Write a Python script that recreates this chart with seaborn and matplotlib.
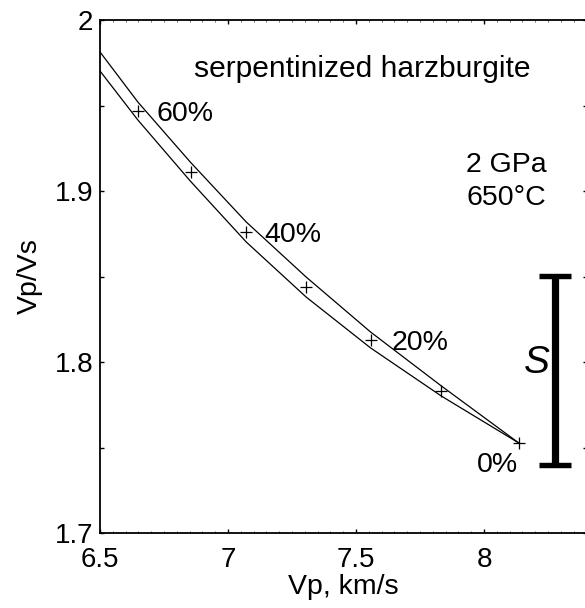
import matplotlib
matplotlib.use('Agg')
import matplotlib.pyplot as plt
import seaborn as sns
import pandas as pd

# marks on the serpentinization trend (percent serpentine)
serp_pct = [60, 50, 40, 30, 20, 10, 0]
mark_vp = [6.648, 6.854, 7.071, 7.305, 7.557, 7.833, 8.136]
mark_vpvs = [1.9468, 1.9111, 1.8760, 1.8439, 1.8129, 1.7830, 1.7526]

# upper / lower bound curves
curve_vp = [6.5, 6.648, 6.854, 7.071, 7.305, 7.557, 7.833, 8.136]
upper_vpvs = [1.9813, 1.9520, 1.9167, 1.8819, 1.8497, 1.8175, 1.7860, 1.7526]
lower_vpvs = [1.9702, 1.9415, 1.9056, 1.8702, 1.8380, 1.8082, 1.7801, 1.7526]

# observed range "S"
s_vp = 8.276
s_mid = 1.795
s_err = 0.0553

labelled = {60: (13.5, -7.5, 'left'), 40: (13, -7.2, 'left'),
            20: (15, -7.2, 'left'), 0: (-0.7, -21, 'right')}

sns.set_theme(style='white')
plt.rcParams['font.family'] = ['Liberation Sans', 'DejaVu Sans']
plt.rcParams['text.color'] = 'black'

fig = plt.figure(figsize=(5.85, 6.08), dpi=100)
ax = fig.add_axes([100 / 585, 1 - 533 / 608, 486.5 / 585, 513 / 608])

df_up = pd.DataFrame({'vp': curve_vp, 'vpvs': upper_vpvs})
df_lo = pd.DataFrame({'vp': curve_vp, 'vpvs': lower_vpvs})
sns.lineplot(data=df_up, x='vp', y='vpvs', sort=False, color='black', lw=0.9, ax=ax)
sns.lineplot(data=df_lo, x='vp', y='vpvs', sort=False, color='black', lw=0.9, ax=ax)

df_m = pd.DataFrame({'vp': mark_vp, 'vpvs': mark_vpvs, 'pct': serp_pct})
ax.plot(df_m['vp'], df_m['vpvs'], ls='none', marker='+', ms=9, mew=0.9, color='black')

for p, v, r in zip(serp_pct, mark_vp, mark_vpvs):
    if p in labelled:
        dx, dy, ha = labelled[p]
        ax.annotate(f'{p}%', (v, r), xytext=(dx, dy), textcoords='offset points',
                    ha=ha, va='baseline', fontsize=20.5, color='black')

ax.errorbar([s_vp], [s_mid], yerr=[s_err], fmt='none', ecolor='black',
            elinewidth=5.2, capsize=11.5, capthick=3.9)
ax.text(8.206, 1.7936, 'S', fontsize=28, style='italic', ha='center', va='baseline',
        color='black')

ax.text(6.869, 1.9667, 'serpentinized harzburgite', fontsize=21.6, va='baseline',
        color='black')
ax.text(7.93, 1.9111, '2 GPa', fontsize=20.5, va='baseline', color='black')
ax.text(7.93, 1.8918, '650\u00b0C', fontsize=20.5, va='baseline', color='black')

ax.set_xlim(6.5, 6.5 + 486.5 / 257.3)
ax.set_ylim(1.7, 2.0)

ax.set_xticks([6.5, 7, 7.5, 8])
ax.set_xticklabels(['6.5', '7', '7.5', '8'])
ax.set_xticks([6.5 + 0.05 * i for i in range(39)], minor=True)
yt = [1.7, 1.75, 1.8, 1.85, 1.9, 1.95, 2.0]
ax.set_yticks(yt)
ax.set_yticklabels(['1.7', '', '1.8', '', '1.9', '', '2'])

ax.tick_params(axis='both', which='major', direction='in', length=3, width=1,
               top=True, right=True, bottom=True, left=True,
               labelsize=20, colors='black', labelcolor='black')
ax.tick_params(axis='x', which='major', pad=10)
ax.tick_params(axis='y', which='major', pad=5)
ax.tick_params(axis='x', which='minor', direction='in', length=1.2, width=0.6,
               top=True, bottom=True, color='#555555')
for s in ax.spines.values():
    s.set_color('black')
    s.set_linewidth(1.3)

ax.set_xlabel('Vp, km/s', fontsize=20.5, color='black', labelpad=1)
ax.set_ylabel('Vp/Vs', fontsize=20.5, color='black', labelpad=8)

fig.savefig('out.png', dpi=100)
